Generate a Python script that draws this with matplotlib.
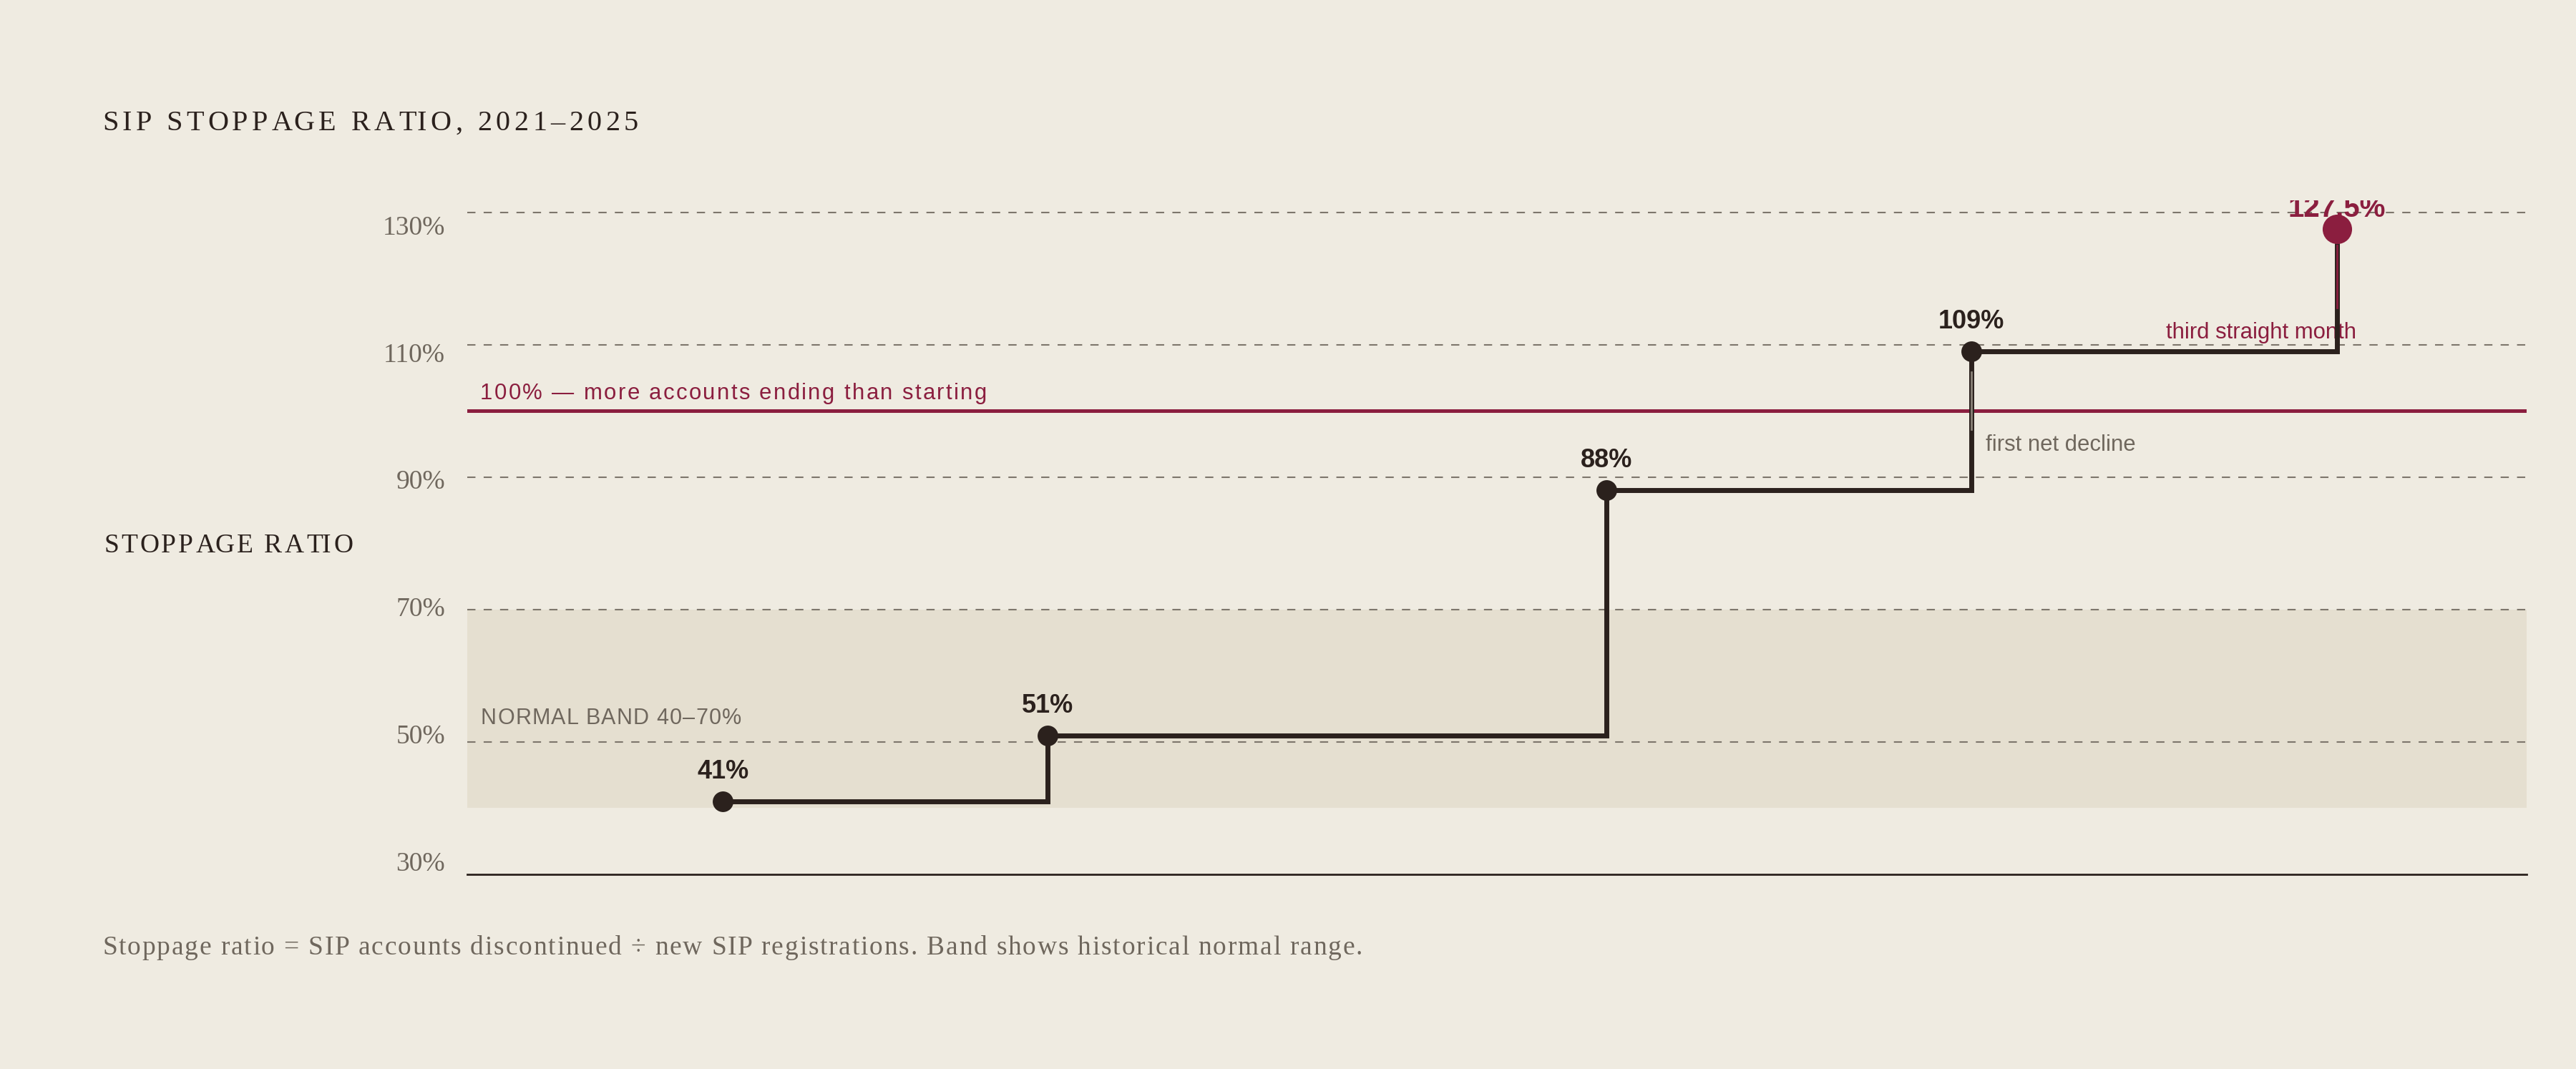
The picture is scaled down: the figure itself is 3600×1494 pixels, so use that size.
import matplotlib
matplotlib.use('Agg')
import matplotlib.pyplot as plt
from matplotlib.transforms import blended_transform_factory, IdentityTransform
from matplotlib.font_manager import FontProperties

# ---- data ----
periods = [2021.00, 2021.89, 2023.42, 2024.42, 2025.42]
ratios = [41, 51, 88, 109, 127.5]
point_labels = ['41%', '51%', '88%', '109%', '127.5%']
ytick_values = [30, 50, 70, 90, 110, 130]
ytick_labels = ['30%', '50%', '70%', '90%', '110%', '130%']
grid_values = [50, 70, 90, 110, 130]
normal_band = [40, 70]
threshold = 100

title = 'SIP STOPPAGE RATIO, 2021\u20132025'
ylabel = 'STOPPAGE RATIO'
footnote = ('Stoppage ratio = SIP accounts discontinued \u00f7 new SIP registrations. '
            'Band shows historical normal range.')
threshold_label = '100% \u2014 more accounts ending than starting'
band_label = 'NORMAL BAND 40\u201370%'
note_decline = 'first net decline'
note_third = 'third straight month'

# ---- style ----
BG = '#efebe1'
BAND = '#e5dfd0'
INK = '#2b211d'
RED = '#8b1e3f'
GREY = '#6f675d'
GRID = '#7d766c'
SERIF = 'Liberation Serif'
SANS = 'Liberation Sans'

W, H, DPI = 3600, 1494, 200
fig = plt.figure(figsize=(W / DPI, H / DPI), dpi=DPI, facecolor=BG)
ax = fig.add_axes([653 / W, 1 - 1222 / H, (3531 - 653) / W, (1222 - 280) / H])
ax.set_facecolor(BG)
ax.set_xlim(2020.30, 2025.94)
ax.set_ylim(30, 131.8)
for s in ax.spines.values():
    s.set_visible(False)
ax.set_xticks([])
ax.set_yticks([])

renderer = fig.canvas.get_renderer()


def spaced_text(x_disp, y_disp, s, spacing, size, family, color, weight='normal', zorder=5):
    fp = FontProperties(family=family, size=size, weight=weight)
    sent_w = renderer.get_text_width_height_descent('|', fp, ismath=False)[0]
    for i, ch in enumerate(s):
        if ch == ' ':
            continue
        pre = s[:i]
        w = renderer.get_text_width_height_descent(pre + '|', fp, ismath=False)[0] - sent_w if pre else 0
        fig.text(x_disp + w + i * spacing, y_disp, ch, transform=IdentityTransform(),
                 fontproperties=fp, color=color, ha='left', va='baseline', zorder=zorder)


# band and grid
ax.axhspan(normal_band[0], normal_band[1], color=BAND, lw=0, zorder=0)
for g in grid_values:
    ax.axhline(g, color=GRID, lw=0.75, ls=(0, (5.5, 5.5)), zorder=1)
ax.axhline(ytick_values[0], color=INK, lw=1.0, zorder=2, clip_on=False)
ax.axhline(threshold, color=RED, lw=1.8, zorder=3)

# step line and markers
ax.plot(periods, ratios, drawstyle='steps-post', color=INK, lw=2.5, zorder=4,
        solid_joinstyle='miter', solid_capstyle='butt')
ax.plot(periods[:-1], ratios[:-1], 'o', ms=10.4, color=INK, mec='none', zorder=6)
ax.plot(periods[-1:], ratios[-1:], 'o', ms=14.8, color=RED, mec='none', zorder=6)

# callout ticks along the vertical steps
ax.plot([periods[3], periods[3]], [97.2, 105.9], color='#8a8278', lw=1.0, zorder=5)
ax.plot([periods[4], periods[4]], [115.6, 125.0], color=RED, lw=1.0, zorder=5)

# data labels
for x, y, lab in zip(periods[:-1], ratios[:-1], point_labels[:-1]):
    ax.annotate(lab, (x, y), xytext=(0, 11.5), textcoords='offset points',
                ha='center', va='baseline', fontsize=13, fontweight='bold',
                family=SANS, color=INK, zorder=5)
ax.annotate(point_labels[-1], (periods[-1], ratios[-1]), xytext=(0, 6), textcoords='offset points',
            ha='center', va='baseline', fontsize=14.5, fontweight='bold',
            family=SANS, color=RED, zorder=5, clip_on=True)

# y tick labels
trans = blended_transform_factory(ax.transAxes, ax.transData)
for v, lab in zip(ytick_values, ytick_labels):
    ax.text(-31 / (3531 - 653), 30.54 + (v - 30) * 0.9611, lab, transform=trans,
            ha='right', va='baseline', fontsize=13.5, family=SERIF, color=GREY, clip_on=False)

# annotations
ax.annotate(note_decline, (periods[3], 94.8), xytext=(7, 0), textcoords='offset points',
            ha='left', va='center', fontsize=11.2, family=SANS, color=GREY, zorder=3)
ax.annotate(note_third, (periods[4], 111.8), xytext=(10, 0), textcoords='offset points',
            ha='right', va='center', fontsize=11.2, family=SANS, color=RED, zorder=3)

x0, _ = ax.transAxes.transform((0, 0))
_, yb = ax.transData.transform((0, threshold))
spaced_text(x0 + 18, yb + 16, threshold_label, 2.35, 11.2, SANS, RED)
_, yb2 = ax.transData.transform((0, 52.7))
spaced_text(x0 + 19, yb2, band_label, 1.2, 11.0, SANS, GREY)

# title, y label, footnote
spaced_text(143, H - 182, title, 5.5, 14.5, SERIF, INK)
spaced_text(145, H - 772, ylabel, 3.3, 13.5, SERIF, INK)
spaced_text(143, H - 1334, footnote, 1.8, 13.5, SERIF, GREY)

fig.savefig('out.png', dpi=DPI, facecolor=BG)
